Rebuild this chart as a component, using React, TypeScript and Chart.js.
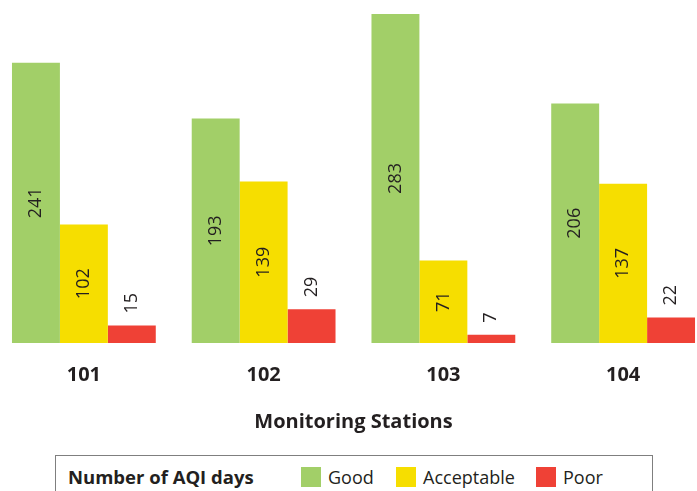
import React, { useEffect, useRef } from "react";
import { Chart, registerables } from "chart.js";
Chart.register(...registerables);

const stations = ["101", "102", "103", "104"];
const goodDays = [241, 193, 283, 206];
const acceptableDays = [102, 139, 71, 137];
const poorDays = [15, 29, 7, 22];
const seriesNames = ["Good", "Acceptable", "Poor"];
const seriesColors = ["#a2cf68", "#f6de00", "#ef4136"];
const axisTitle = "Monitoring Stations";
const legendTitle = "Number of AQI days";

const FONT = "'Open Sans', sans-serif";

const barLabels = {
  id: "barLabels",
  afterDatasetsDraw(chart: any) {
    const ctx = chart.ctx;
    ctx.save();
    ctx.fillStyle = "#231f20";
    ctx.font = `18px ${FONT}`;
    chart.data.datasets.forEach((ds: any, di: number) => {
      const meta = chart.getDatasetMeta(di);
      meta.data.forEach((bar: any, i: number) => {
        const text = String(ds.data[i]);
        const w = ctx.measureText(text).width;
        const h = bar.base - bar.y;
        ctx.save();
        if (h > w + 30) {
          ctx.translate(bar.x, (bar.y + bar.base) / 2);
          ctx.rotate(-Math.PI / 2);
          ctx.textAlign = "center";
        } else {
          ctx.translate(bar.x, bar.y - 12);
          ctx.rotate(-Math.PI / 2);
          ctx.textAlign = "left";
        }
        ctx.textBaseline = "middle";
        ctx.fillText(text, 0, 0);
        ctx.restore();
      });
    });
    ctx.restore();
  },
};

export default function App() {
  const ref = useRef<HTMLCanvasElement>(null);
  useEffect(() => {
    if (!ref.current) return;
    const values = [goodDays, acceptableDays, poorDays];
    const chart = new Chart(ref.current, {
      type: "bar",
      data: {
        labels: stations,
        datasets: seriesNames.map((name, k) => ({
          label: name,
          data: values[k],
          backgroundColor: seriesColors[k],
          borderWidth: 0,
          categoryPercentage: 0.8,
          barPercentage: 1.0,
        })),
      },
      options: {
        animation: false,
        responsive: false,
        maintainAspectRatio: false,
        layout: { padding: 0 },
        plugins: { legend: { display: false }, tooltip: { enabled: false } },
        scales: {
          y: { display: false, min: 0, max: 295 },
          x: {
            grid: { display: false, drawTicks: false },
            border: { display: false },
            ticks: {
              padding: 20,
              color: "#231f20",
              font: { family: FONT, size: 20, weight: "bold" },
            },
            title: {
              display: true,
              text: axisTitle,
              color: "#231f20",
              font: { family: FONT, size: 20, weight: "bold" },
              padding: { top: 0, bottom: 6 },
            },
            afterFit(scale: any) {
              scale.height = 97;
            },
          },
        },
      },
      plugins: [barLabels],
    });
    return () => chart.destroy();
  }, []);

  const sq = (c: string) => (
    <span style={{ display: "inline-block", width: 20, height: 20, background: c, marginRight: 7 }} />
  );

  return (
    <div style={{ position: "fixed", left: 0, top: 0, width: 697, height: 491, overflow: "hidden", background: "#fff" }}>
      <canvas ref={ref} width={719} height={440} style={{ position: "absolute", left: -6, top: 0, width: 719, height: 440 }} />
      <div
        style={{
          position: "absolute",
          left: 55,
          top: 455,
          width: 598,
          height: 60,
          border: "1px solid #7f7f7f",
          boxSizing: "border-box",
          fontFamily: FONT,
          color: "#231f20",
          fontSize: 18,
        }}
      >
        <div style={{ position: "absolute", left: 12, top: 8, fontWeight: "bold", fontSize: 18.5, whiteSpace: "nowrap" }}>{legendTitle}</div>
        {seriesNames.map((n, k) => (
          <div
            key={n}
            style={{ position: "absolute", left: [245, 340, 480][k], top: 11, display: "flex", alignItems: "center", whiteSpace: "nowrap", lineHeight: "20px" }}
          >
            {sq(seriesColors[k])}
            <span>{n}</span>
          </div>
        ))}
      </div>
    </div>
  );
}
